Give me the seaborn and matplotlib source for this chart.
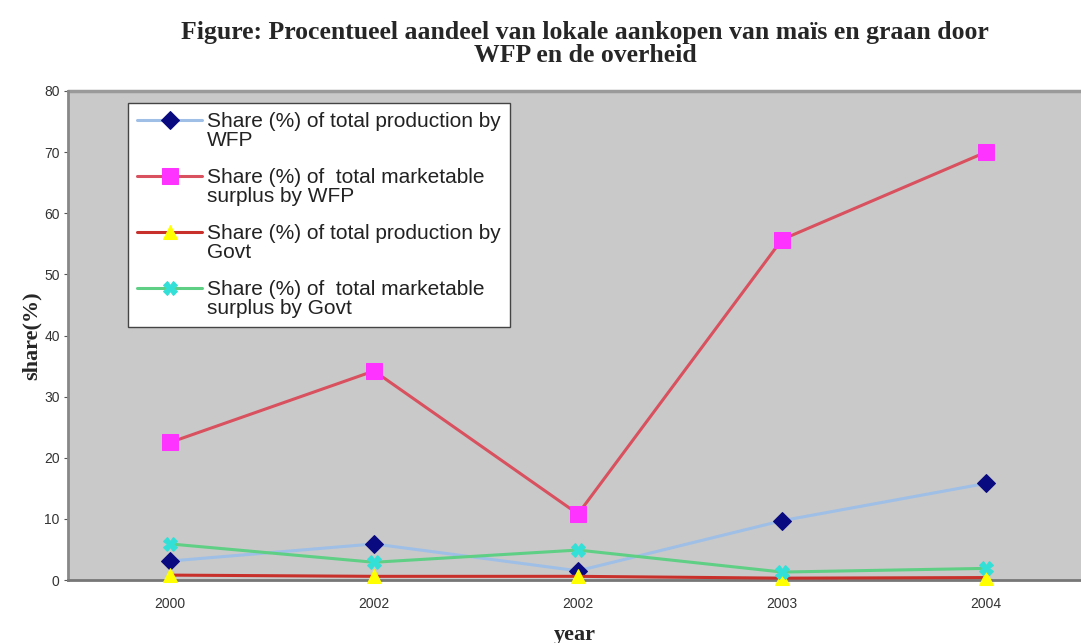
import numpy as np
import pandas as pd
import matplotlib
matplotlib.use("Agg")
import matplotlib.pyplot as plt
from matplotlib.legend_handler import HandlerLine2D
import seaborn as sns

# Données
years = ["2000", "2002", "2002", "2003", "2004"]
wfp_production = [3.1, 5.9, 1.5, 9.7, 15.8]
wfp_surplus = [22.5, 34.2, 10.8, 55.7, 70.0]
govt_production = [0.8, 0.6, 0.6, 0.3, 0.4]
govt_surplus = [5.9, 2.9, 4.9, 1.3, 1.9]

labels = [
    "Share (%) of total production by\nWFP",
    "Share (%) of  total marketable\nsurplus by WFP",
    "Share (%) of total production by\nGovt",
    "Share (%) of  total marketable\nsurplus by Govt",
]

series = [wfp_production, wfp_surplus, govt_production, govt_surplus]
line_colors = ["#9fbfe6", "#d9505e", "#c8302c", "#5fcf85"]
marker_face = ["#0a0a80", "#ff33ff", "#ffff00", "#33e0d8"]
markers = ["D", "s", "^", "X"]
marker_sizes = [9, 11, 10, 10]

pos = np.arange(len(years))
df = pd.DataFrame({"pos": np.tile(pos, 4),
                   "value": np.concatenate(series),
                   "serie": np.repeat(labels, len(years))})


class TopHandler(HandlerLine2D):
    # poignée alignée sur la première ligne du texte
    def create_artists(self, legend, orig_handle, xdescent, ydescent,
                       width, height, fontsize, trans):
        artists = super().create_artists(legend, orig_handle, xdescent, ydescent,
                                         width, height, fontsize, trans)
        for a in artists:
            a.set_ydata(np.asarray(a.get_ydata()) + fontsize * 0.55)
        return artists


sns.set_style("white")
plt.rcParams["font.family"] = ["Liberation Sans", "DejaVu Sans"]

fig = plt.figure(figsize=(10.81, 6.43), dpi=100)
ax = fig.add_axes([68 / 1081, 63 / 643, 1 - 68 / 1081, (580 - 91) / 643])
ax.set_facecolor("#c9c9c9")

for i, lab in enumerate(labels):
    sub = df[df["serie"] == lab]
    sns.lineplot(data=sub, x="pos", y="value", ax=ax, color=line_colors[i],
                 linewidth=2.2, marker=markers[i], markersize=marker_sizes[i],
                 markerfacecolor=marker_face[i], markeredgecolor=marker_face[i],
                 label=lab, clip_on=False, zorder=3 + i)

ax.set_xlim(-0.5, (1081 - 170) / 204)
ax.set_ylim(0, 80)
ax.set_yticks(range(0, 81, 10))
ax.set_xticks(pos)
ax.set_xticklabels(years)
ax.set_xticks(pos[:-1] + 0.5, minor=True)
ax.tick_params(axis="both", which="major", labelsize=10, colors="#333333",
               length=3, direction="out")
ax.tick_params(axis="x", which="major", length=0, pad=12)
ax.tick_params(axis="x", which="minor", length=3, color="#555555", direction="out")
ax.tick_params(axis="y", left=True, color="#555555", pad=3)

for side in ["top", "right"]:
    ax.spines[side].set_visible(False)
ax.spines["left"].set_color("#888888")
ax.spines["left"].set_linewidth(2)
ax.spines["bottom"].set_color("#777777")
ax.spines["bottom"].set_linewidth(2)
ax.axhline(80, color="#9a9a9a", linewidth=2.5, clip_on=False)

serif = ["Liberation Serif", "DejaVu Serif"]
ax.set_xlabel("year", family=serif, fontweight="bold", fontsize=16, labelpad=10)
ax.set_ylabel("share(%)", family=serif, fontweight="bold", fontsize=16, labelpad=2)
fig.suptitle("Figure: Procentueel aandeel van lokale aankopen van maïs en graan door\nWFP en de overheid",
             family=serif, fontweight="bold", fontsize=18.5, x=585 / 1081, y=0.968,
             linespacing=1.05)

leg = ax.legend(loc="upper left", bbox_to_anchor=((128 - 68) / (1081 - 68), 0.976),
                bbox_transform=ax.transAxes, fontsize=15, frameon=True,
                fancybox=False, borderpad=0.45, labelspacing=0.86,
                handlelength=3.1, handletextpad=0.25, borderaxespad=0,
                handler_map={matplotlib.lines.Line2D: TopHandler()})
leg.get_frame().set_edgecolor("#444444")
leg.get_frame().set_linewidth(1)
leg.get_frame().set_facecolor("white")
leg.get_frame().set_alpha(1)
for t in leg.get_texts():
    t.set_color("#222222")
    t.set_linespacing(1.0)

fig.savefig("out.png", dpi=100)
